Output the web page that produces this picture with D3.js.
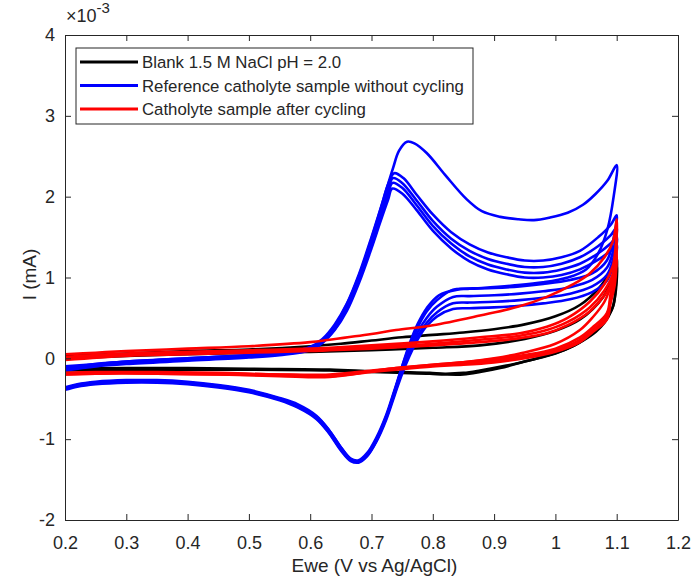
<!DOCTYPE html>
<html>
<head>
<meta charset="utf-8">
<script src="https://cdn.jsdelivr.net/npm/d3@7"></script>
<style>
	body { margin: 0; background: #fff; }
	text { font-family: "Liberation Sans", Arial, Helvetica, sans-serif; fill: #262626; }
</style>
</head>
<body>
<div id="chart"></div>
<script>
// Values. Potential in V, current in units of 1e-3 mA.
const xTicks = [0.2, 0.3, 0.4, 0.5, 0.6, 0.7, 0.8, 0.9, 1, 1.1, 1.2];
const yTicks = [-2, -1, 0, 1, 2, 3, 4];
const legendLabels = ["Blank 1.5 M NaCl pH = 2.0", "Reference catholyte sample without cycling", "Catholyte sample after cycling"];
const seriesColors = ["#000000", "#0000ff", "#ff0000"];

// Blank 1.5 M NaCl, two cycles (forward then reverse scan)
const blank1 = [[0.2,0.03],[0.3,0.06],[0.4,0.09],[0.5,0.11],[0.6,0.15],[0.65,0.18],[0.7,0.22],[0.75,0.26],[0.8,0.29],[0.85,0.32],[0.9,0.36],[0.95,0.42],[1.0,0.52],[1.04,0.66],[1.07,0.86],[1.09,1.08],[1.1,1.25],
	[1.098,0.85],[1.094,0.64],[1.08,0.46],[1.068,0.36],[1.05,0.25],[1.029,0.15],[1.0,0.06],[0.96,-0.02],[0.92,-0.09],[0.877,-0.15],[0.85,-0.18],[0.82,-0.19],[0.795,-0.18],[0.75,-0.17],[0.7,-0.16],[0.632,-0.14],[0.5,-0.13],[0.4,-0.12],[0.3,-0.12],[0.2,-0.13]];
const blank2 = [[0.2,0.0],[0.3,0.03],[0.4,0.05],[0.5,0.07],[0.6,0.08],[0.7,0.1],[0.8,0.13],[0.877,0.16],[0.95,0.24],[1.0,0.34],[1.04,0.48],[1.078,0.76],[1.093,1.0],[1.1,1.15],
	[1.098,0.8],[1.092,0.6],[1.08,0.44],[1.066,0.33],[1.045,0.22],[1.02,0.12],[0.99,0.04],[0.95,-0.04],[0.91,-0.12],[0.877,-0.17],[0.85,-0.2],[0.82,-0.2],[0.795,-0.19],[0.75,-0.18],[0.7,-0.17],[0.632,-0.15],[0.5,-0.14],[0.4,-0.14],[0.3,-0.14],[0.2,-0.15]];

// Reference catholyte, five cycles (first one has the big anodic peak)
const ref1 = [[0.2,-0.12],[0.22,-0.1],[0.25,-0.07],[0.3,-0.04],[0.35,-0.02],[0.4,0.0],[0.45,0.02],[0.5,0.04],[0.55,0.07],[0.58,0.1],[0.6,0.14],[0.62,0.24],[0.64,0.42],[0.66,0.68],[0.68,1.05],[0.70,1.5],[0.72,1.98],[0.735,2.35],[0.745,2.57],[0.758,2.68],[0.77,2.66],[0.79,2.54],[0.82,2.27],[0.855,1.97],[0.88,1.82],[0.91,1.75],[0.94,1.72],[0.965,1.71],[0.99,1.74],[1.02,1.8],[1.045,1.9],[1.065,2.03],[1.085,2.2],[1.1,2.39],
	[1.095,2.0],[1.085,1.6],[1.07,1.3],[1.05,1.1],[1.02,1.0],[0.98,0.94],[0.93,0.9],[0.88,0.87],[0.84,0.85],[0.81,0.78],[0.79,0.62],[0.775,0.42],[0.763,0.2],[0.752,-0.05],[0.74,-0.35],[0.725,-0.7],[0.71,-0.98],[0.695,-1.18],[0.68,-1.28],[0.667,-1.25],[0.65,-1.1],[0.63,-0.88],[0.61,-0.72],[0.58,-0.58],[0.55,-0.5],[0.5,-0.4],[0.45,-0.34],[0.4,-0.3],[0.35,-0.28],[0.3,-0.28],[0.25,-0.3],[0.22,-0.33],[0.2,-0.37]];
const ref2 = [[0.2,-0.1],[0.25,-0.07],[0.3,-0.04],[0.4,0.0],[0.5,0.04],[0.55,0.07],[0.6,0.13],[0.62,0.22],[0.64,0.4],[0.66,0.67],[0.68,1.03],[0.70,1.48],[0.715,1.85],[0.727,2.15],[0.737,2.29],[0.752,2.23],[0.774,2.02],[0.8,1.78],[0.83,1.56],[0.86,1.41],[0.89,1.31],[0.92,1.25],[0.95,1.21],[0.98,1.21],[1.01,1.25],[1.04,1.33],[1.07,1.5],[1.09,1.65],[1.1,1.77],
	[1.094,1.45],[1.084,1.21],[1.06,1.05],[1.024,0.97],[0.98,0.92],[0.942,0.89],[0.9,0.87],[0.86,0.86],[0.833,0.85],[0.807,0.72],[0.79,0.58],[0.775,0.38],[0.762,0.15],[0.75,-0.1],[0.738,-0.38],[0.724,-0.7],[0.708,-0.98],[0.693,-1.17],[0.679,-1.26],[0.666,-1.24],[0.65,-1.1],[0.63,-0.88],[0.61,-0.71],[0.58,-0.57],[0.55,-0.49],[0.5,-0.39],[0.45,-0.33],[0.4,-0.29],[0.35,-0.27],[0.3,-0.27],[0.25,-0.29],[0.22,-0.32],[0.2,-0.36]];
const ref3 = [[0.2,-0.12],[0.25,-0.08],[0.3,-0.05],[0.4,-0.01],[0.5,0.03],[0.55,0.06],[0.6,0.12],[0.62,0.21],[0.64,0.38],[0.66,0.64],[0.68,1.0],[0.70,1.44],[0.715,1.8],[0.727,2.08],[0.735,2.23],[0.75,2.17],[0.774,1.95],[0.8,1.7],[0.83,1.48],[0.86,1.33],[0.89,1.23],[0.92,1.17],[0.95,1.13],[0.98,1.13],[1.01,1.17],[1.04,1.25],[1.07,1.39],[1.09,1.52],[1.1,1.62],
	[1.094,1.32],[1.084,1.12],[1.06,0.97],[1.024,0.88],[0.98,0.83],[0.942,0.8],[0.9,0.78],[0.86,0.77],[0.833,0.76],[0.807,0.64],[0.79,0.5],[0.775,0.32],[0.762,0.1],[0.75,-0.13],[0.738,-0.4],[0.724,-0.72],[0.708,-1.0],[0.693,-1.19],[0.679,-1.27],[0.666,-1.25],[0.65,-1.12],[0.63,-0.9],[0.61,-0.73],[0.58,-0.59],[0.55,-0.5],[0.5,-0.4],[0.45,-0.34],[0.4,-0.3],[0.35,-0.28],[0.3,-0.28],[0.25,-0.3],[0.22,-0.33],[0.2,-0.37]];
const ref4 = [[0.2,-0.14],[0.25,-0.09],[0.3,-0.06],[0.4,-0.02],[0.5,0.02],[0.55,0.05],[0.6,0.11],[0.62,0.2],[0.64,0.36],[0.66,0.61],[0.68,0.97],[0.70,1.4],[0.715,1.75],[0.727,2.02],[0.734,2.17],[0.75,2.11],[0.774,1.89],[0.8,1.64],[0.83,1.42],[0.86,1.26],[0.89,1.16],[0.92,1.1],[0.95,1.06],[0.98,1.06],[1.01,1.1],[1.04,1.17],[1.07,1.3],[1.09,1.42],[1.1,1.5],
	[1.094,1.22],[1.084,1.03],[1.06,0.89],[1.024,0.8],[0.98,0.75],[0.942,0.72],[0.9,0.7],[0.86,0.69],[0.833,0.68],[0.807,0.57],[0.79,0.44],[0.775,0.27],[0.762,0.06],[0.75,-0.16],[0.738,-0.43],[0.724,-0.74],[0.708,-1.02],[0.693,-1.2],[0.679,-1.28],[0.666,-1.26],[0.65,-1.13],[0.63,-0.91],[0.61,-0.74],[0.58,-0.6],[0.55,-0.51],[0.5,-0.41],[0.45,-0.35],[0.4,-0.31],[0.35,-0.29],[0.3,-0.29],[0.25,-0.31],[0.22,-0.34],[0.2,-0.38]];
const ref5 = [[0.2,-0.15],[0.25,-0.1],[0.3,-0.07],[0.4,-0.03],[0.5,0.01],[0.55,0.04],[0.6,0.1],[0.62,0.19],[0.64,0.35],[0.66,0.59],[0.68,0.94],[0.70,1.36],[0.715,1.7],[0.727,1.96],[0.734,2.1],[0.75,2.04],[0.774,1.83],[0.8,1.58],[0.83,1.36],[0.86,1.2],[0.89,1.1],[0.92,1.04],[0.95,1.0],[0.98,1.0],[1.01,1.03],[1.04,1.1],[1.07,1.22],[1.09,1.33],[1.1,1.4],
	[1.094,1.14],[1.084,0.96],[1.06,0.82],[1.024,0.73],[0.98,0.68],[0.942,0.65],[0.9,0.63],[0.86,0.62],[0.833,0.61],[0.807,0.52],[0.79,0.4],[0.775,0.23],[0.762,0.03],[0.75,-0.19],[0.738,-0.45],[0.724,-0.76],[0.708,-1.03],[0.693,-1.21],[0.679,-1.29],[0.666,-1.27],[0.65,-1.14],[0.63,-0.92],[0.61,-0.75],[0.58,-0.61],[0.55,-0.52],[0.5,-0.42],[0.45,-0.36],[0.4,-0.32],[0.35,-0.3],[0.3,-0.3],[0.25,-0.32],[0.22,-0.35],[0.2,-0.39]];

// Catholyte after cycling, four cycles
const cyc1 = [[0.2,0.05],[0.25,0.07],[0.3,0.09],[0.4,0.12],[0.5,0.15],[0.6,0.2],[0.632,0.23],[0.7,0.3],[0.74,0.35],[0.8,0.41],[0.877,0.53],[0.94,0.64],[0.986,0.76],[1.03,0.92],[1.056,1.05],[1.08,1.25],[1.094,1.45],[1.1,1.72],
	[1.098,1.3],[1.092,0.95],[1.08,0.7],[1.06,0.5],[1.04,0.35],[1.0,0.18],[0.942,0.06],[0.9,0.0],[0.849,-0.05],[0.8,-0.08],[0.74,-0.12],[0.7,-0.16],[0.632,-0.23],[0.55,-0.22],[0.45,-0.2],[0.35,-0.19],[0.3,-0.18],[0.25,-0.19],[0.2,-0.2]];
const cyc2 = [[0.2,0.02],[0.3,0.06],[0.4,0.08],[0.5,0.1],[0.6,0.12],[0.632,0.13],[0.7,0.16],[0.8,0.21],[0.877,0.26],[0.942,0.31],[0.986,0.39],[1.02,0.5],[1.056,0.7],[1.08,0.92],[1.094,1.15],[1.1,1.5],
	[1.097,1.08],[1.09,0.8],[1.084,0.56],[1.06,0.38],[1.04,0.26],[1.0,0.12],[0.95,0.04],[0.9,-0.01],[0.85,-0.05],[0.8,-0.08],[0.74,-0.12],[0.7,-0.15],[0.632,-0.2],[0.55,-0.2],[0.45,-0.18],[0.35,-0.17],[0.25,-0.17],[0.2,-0.18]];
const cyc3 = [[0.2,0.0],[0.3,0.04],[0.4,0.06],[0.5,0.08],[0.6,0.1],[0.632,0.11],[0.7,0.14],[0.8,0.18],[0.877,0.23],[0.942,0.28],[0.986,0.35],[1.02,0.45],[1.056,0.63],[1.08,0.84],[1.094,1.05],[1.1,1.38],
	[1.097,1.0],[1.09,0.74],[1.084,0.52],[1.06,0.35],[1.04,0.23],[1.0,0.1],[0.95,0.02],[0.9,-0.03],[0.85,-0.06],[0.8,-0.09],[0.74,-0.13],[0.7,-0.16],[0.632,-0.21],[0.55,-0.2],[0.45,-0.19],[0.35,-0.18],[0.25,-0.18],[0.2,-0.19]];
const cyc4 = [[0.2,-0.02],[0.3,0.03],[0.4,0.05],[0.5,0.07],[0.6,0.09],[0.632,0.1],[0.7,0.12],[0.8,0.16],[0.877,0.2],[0.942,0.25],[0.986,0.31],[1.02,0.41],[1.056,0.58],[1.08,0.78],[1.094,0.98],[1.1,1.28],
	[1.097,0.92],[1.09,0.68],[1.084,0.48],[1.06,0.32],[1.04,0.2],[1.0,0.08],[0.95,0.0],[0.9,-0.05],[0.85,-0.08],[0.8,-0.1],[0.74,-0.14],[0.7,-0.17],[0.632,-0.22],[0.55,-0.21],[0.45,-0.2],[0.35,-0.19],[0.25,-0.19],[0.2,-0.2]];

// Draw order: blank, reference, after cycling (red ends on top)
const series = [
	{ color: seriesColors[0], cycles: [blank1, blank2] },
	{ color: seriesColors[1], cycles: [ref1, ref2, ref3, ref4, ref5] },
	{ color: seriesColors[2], cycles: [cyc1, cyc2, cyc3, cyc4] }
];

// General Variables
const chart_width = 696, chart_height = 579;
const margin = { top: 35, right: 18, left: 65, bottom: 59 };
const innerWidth = chart_width - margin.left - margin.right;
const innerHeight = chart_height - margin.top - margin.bottom;

let svg = d3.select("#chart").append("svg")
	.attr("width", chart_width)
	.attr("height", chart_height)
	.style("display", "block");

let x = d3.scaleLinear().domain([0.2, 1.2]).range([0, innerWidth]);
let y = d3.scaleLinear().domain([-2, 4]).range([innerHeight, 0]);

const g = svg.append("g")
	.attr("transform", "translate(" + margin.left + "," + margin.top + ")");

g.append("clipPath").attr("id", "plot-clip")
	.append("rect").attr("width", innerWidth).attr("height", innerHeight);

// curves
let line = d3.line()
	.x(d => x(d[0]))
	.y(d => y(d[1]))
	.curve(d3.curveCatmullRom.alpha(0.5));

let plot = g.append("g").attr("clip-path", "url(#plot-clip)");
series.forEach(function (s) {
	plot.append("g")
		.selectAll("path")
		.data(s.cycles).enter()
		.append("path")
		.attr("d", line)
		.attr("fill", "none")
		.attr("stroke", s.color)
		.attr("stroke-width", 2.6)
		.attr("stroke-linejoin", "round");
});

// Axes, MATLAB style: box with inward ticks on all sides
const tickLen = 6;
function styleAxis(sel) {
	sel.selectAll(".domain").attr("stroke", "#262626");
	sel.selectAll(".tick line").attr("stroke", "#262626");
	sel.selectAll(".tick text").attr("fill", "#262626").style("font-size", "18px")
		.style("font-family", '"Liberation Sans", Arial, sans-serif');
}

g.append("g")
	.attr("transform", "translate(0," + innerHeight + ")")
	.call(d3.axisBottom(x).tickValues(xTicks).tickSizeInner(-tickLen).tickSizeOuter(0)
		.tickPadding(16).tickFormat(d => String(d)))
	.call(styleAxis);

g.append("g")
	.call(d3.axisTop(x).tickValues(xTicks).tickSizeInner(-tickLen).tickSizeOuter(0).tickFormat(""))
	.call(styleAxis);

g.append("g")
	.call(d3.axisLeft(y).tickValues(yTicks).tickSizeInner(-tickLen).tickSizeOuter(0)
		.tickPadding(10).tickFormat(d => String(d)))
	.call(styleAxis);

g.append("g")
	.attr("transform", "translate(" + innerWidth + ",0)")
	.call(d3.axisRight(y).tickValues(yTicks).tickSizeInner(-tickLen).tickSizeOuter(0).tickFormat(""))
	.call(styleAxis);

// Axis labels
g.append("text")
	.attr("x", innerWidth / 2 + 3)
	.attr("y", innerHeight + 52)
	.attr("text-anchor", "middle")
	.style("font-size", "19px")
	.text("Ewe (V vs Ag/AgCl)");

g.append("text")
	.attr("transform", "rotate(-90)")
	.attr("x", -innerHeight / 2 + 3)
	.attr("y", -29)
	.attr("text-anchor", "middle")
	.style("font-size", "19px")
	.text("I (mA)");

// exponent label
let expo = g.append("text")
	.attr("x", 1)
	.attr("y", -13)
	.style("font-size", "18px");
expo.append("tspan").text("\u00d710");
expo.append("tspan").attr("dy", -9).style("font-size", "15px").text("-3");

// Legend
const legend = g.append("g").attr("transform", "translate(11,13)");
legend.append("rect")
	.attr("width", 397)
	.attr("height", 76)
	.attr("fill", "#fff")
	.attr("stroke", "#262626")
	.attr("stroke-width", 1);

let items = legend.selectAll(".item")
	.data(legendLabels).enter()
	.append("g")
	.attr("class", "item")
	.attr("transform", (d, i) => "translate(0," + (14 + i * 23.5) + ")");

items.append("line")
	.attr("x1", 4).attr("x2", 62)
	.attr("stroke", (d, i) => seriesColors[i])
	.attr("stroke-width", 3);

items.append("text")
	.attr("x", 66)
	.attr("dy", "0.36em")
	.style("font-size", "16.8px")
	.text(d => d);
</script>
</body>
</html>
